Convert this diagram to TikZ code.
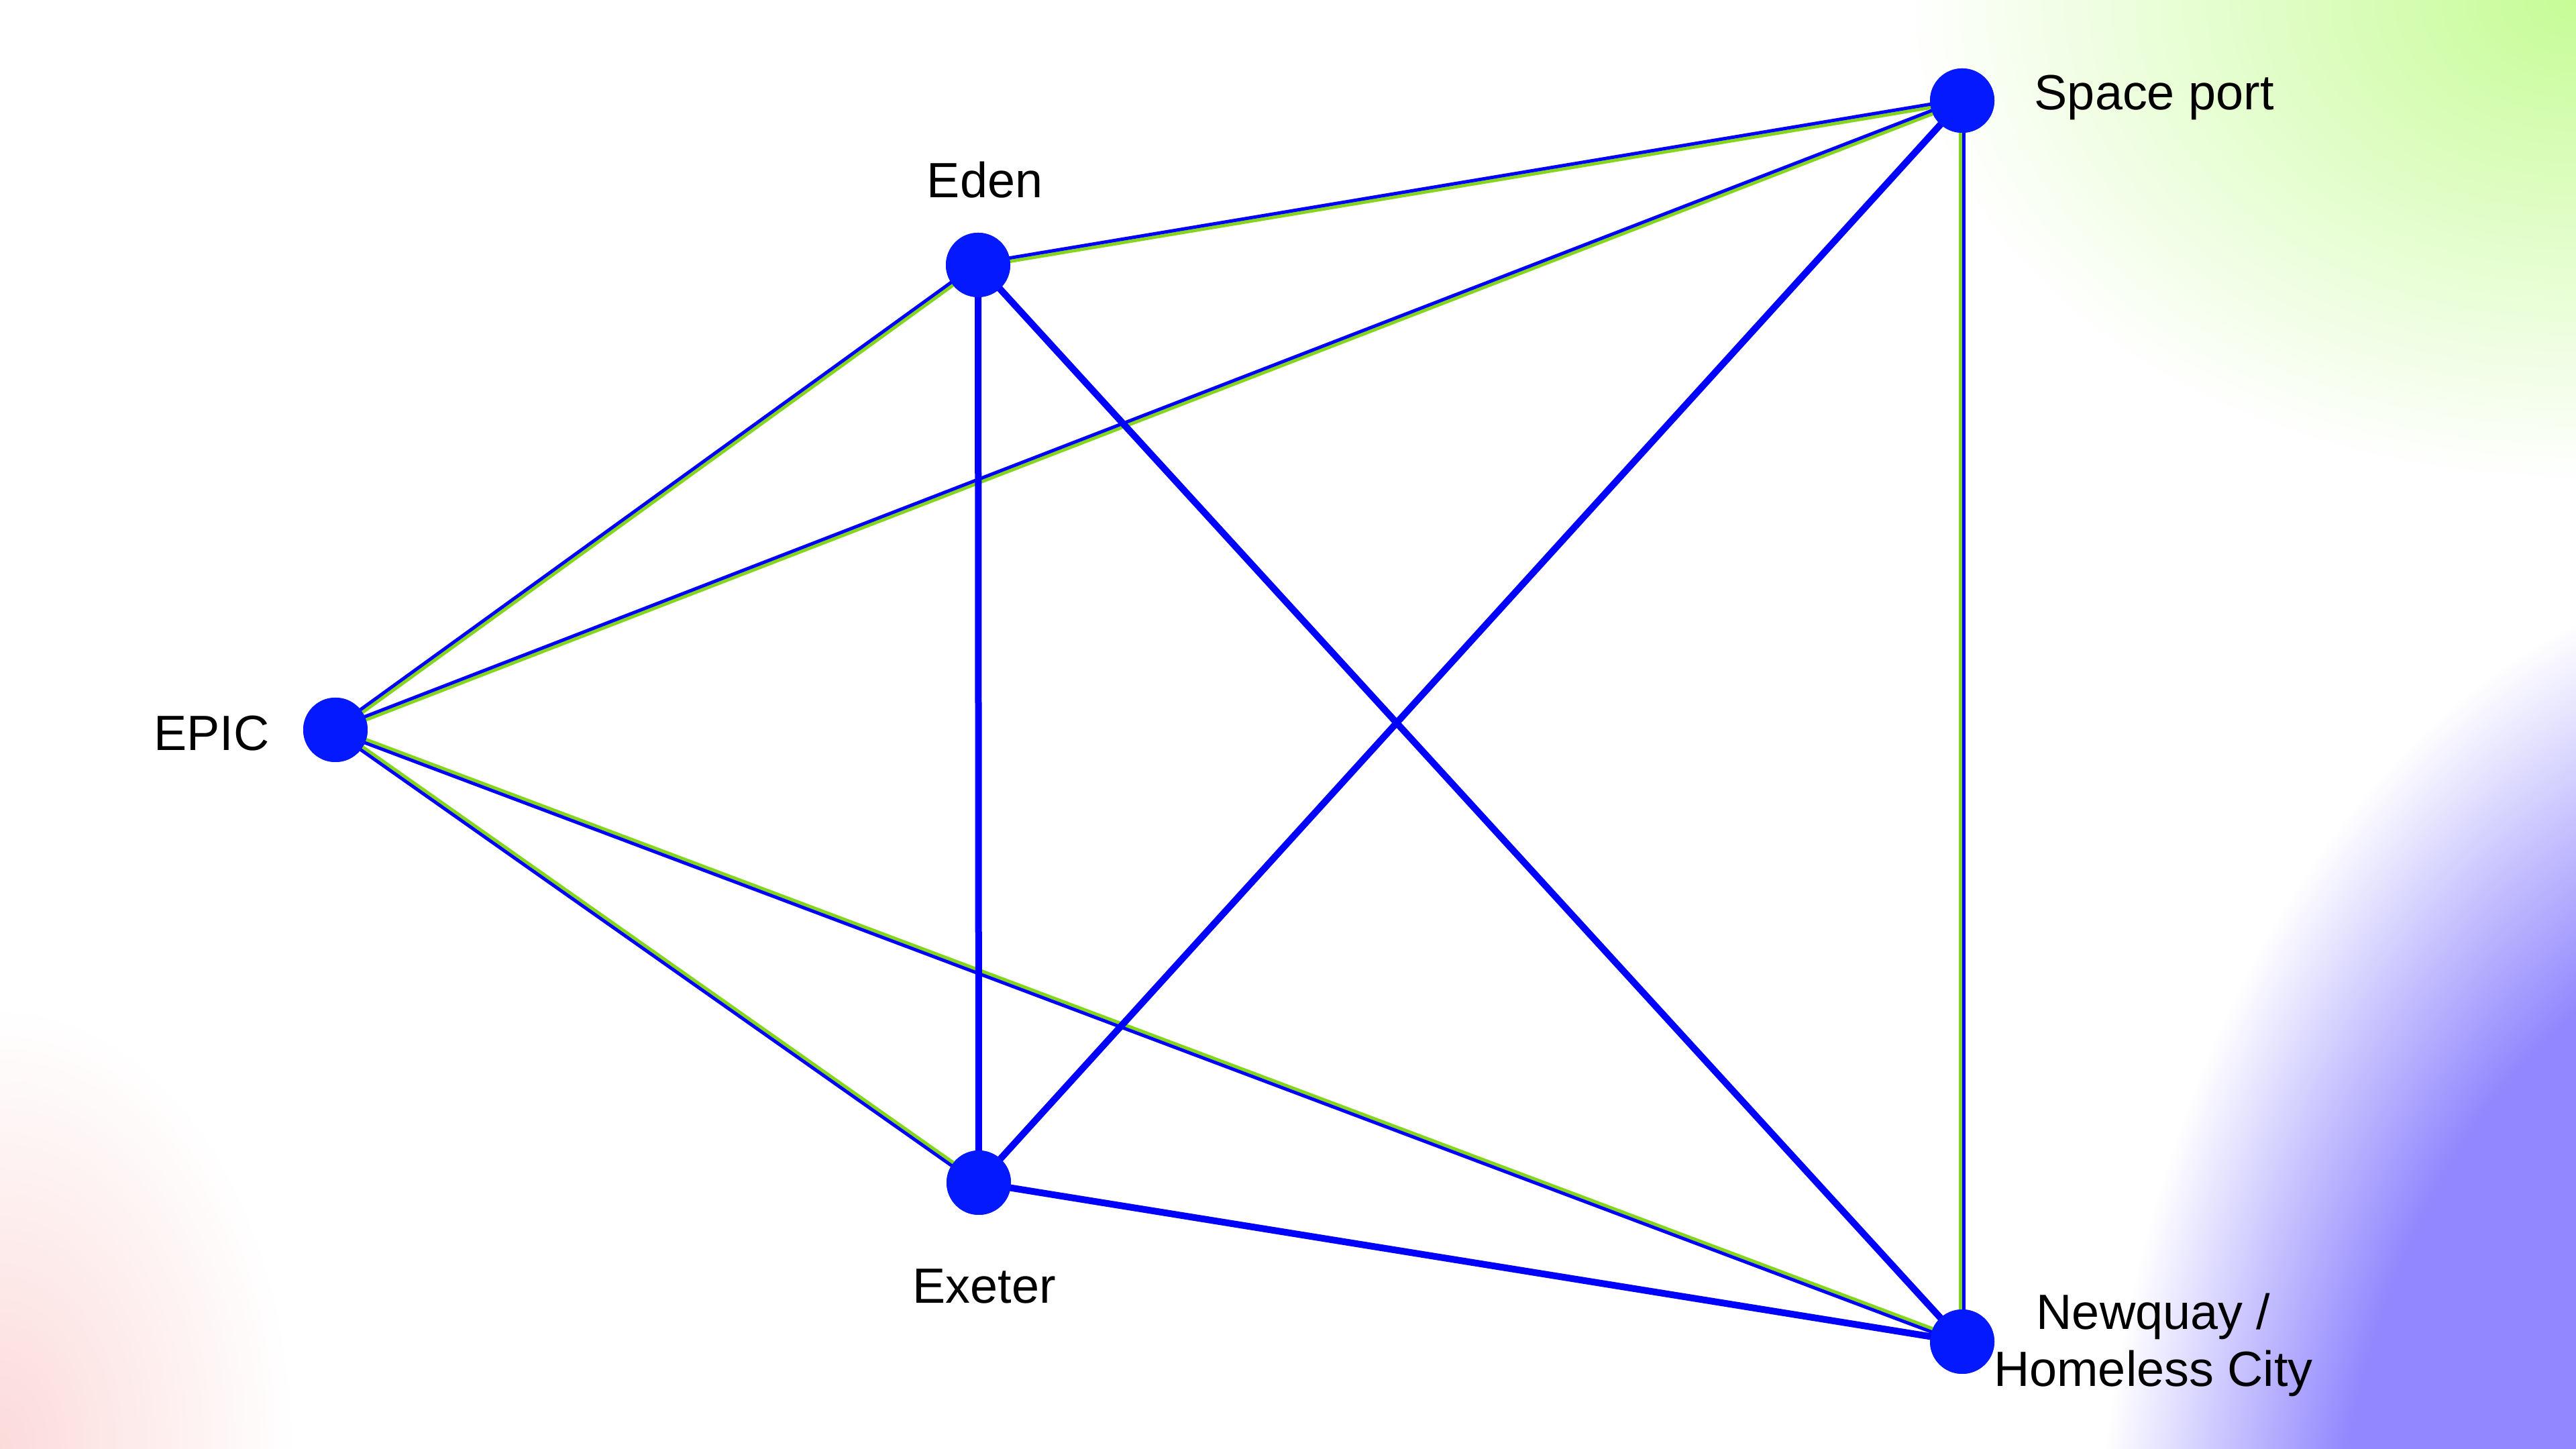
\documentclass[tikz,border=0pt]{standalone}
\usepackage{fontspec}
\setmainfont{Liberation Sans}
\usetikzlibrary{calc}
\definecolor{cgreen}{RGB}{198,252,150}
\definecolor{cpurple}{RGB}{145,135,254}
\definecolor{cpink}{RGB}{252,218,218}
\definecolor{nodeblue}{RGB}{5,25,255}
\definecolor{lineblue}{RGB}{0,0,255}
\definecolor{linegreen}{RGB}{132,214,28}
\pgfdeclareradialshading{greenfade}{\pgfpoint{0bp}{0bp}}{color(0bp)=(cgreen); color(25bp)=(white); color(50bp)=(white)}
\pgfdeclareradialshading{purplefade}{\pgfpoint{0bp}{0bp}}{color(0bp)=(cpurple); color(16.5bp)=(cpurple); color(25bp)=(white); color(50bp)=(white)}
\pgfdeclareradialshading{pinkfade}{\pgfpoint{0bp}{0bp}}{color(0bp)=(cpink); color(25bp)=(white); color(50bp)=(white)}
\tikzset{
  place/.style={circle, fill=nodeblue, draw=none, inner sep=0pt, minimum size=0.96cm},
  lbl/.style={inner sep=0pt, font=\fontsize{21}{25}\selectfont, text=black},
  blueline/.style={draw=lineblue, line width=0.1cm},
  thinblue/.style={draw=lineblue, line width=0.05cm},
  thingreen/.style={draw=linegreen, line width=0.05cm}
}
\newcommand\dualedge[2]{%
  \draw[thingreen] ($(#1.center)!0.025cm!-90:(#2.center)$) -- ($(#2.center)!0.025cm!90:(#1.center)$);
  \draw[thinblue] ($(#1.center)!0.025cm!90:(#2.center)$) -- ($(#2.center)!0.025cm!-90:(#1.center)$);}
\begin{document}
\begin{tikzpicture}
\useasboundingbox (0,0) rectangle (38.4,21.6);
\fill[white] (0,0) rectangle (38.4,21.6);
\begin{scope}
  \clip (0,0) rectangle (38.4,21.6);
  \shade[shading=greenfade] (38.4,21.6) ellipse [x radius=10cm, y radius=7.2cm];
  \shade[shading=purplefade] (41.6,-2.9) ellipse [x radius=10.4cm, y radius=16cm];
  \shade[shading=pinkfade] (0,0) ellipse [x radius=4.4cm, y radius=6.6cm];
\end{scope}

% nodes
\node[place] (eden) at (14.58,17.65) {};
\node[place] (space) at (29.25,20.10) {};
\node[place] (epic) at (5.00,10.72) {};
\node[place] (exeter) at (14.59,3.97) {};
\node[place] (newquay) at (29.25,1.60) {};

% connectors
\dualedge{epic}{eden}
\dualedge{eden}{space}
\dualedge{epic}{space}
\dualedge{exeter}{epic}
\dualedge{newquay}{epic}
\dualedge{space}{newquay}
\draw[blueline] (eden.center) -- (exeter.center);
\draw[blueline] (eden.center) -- (newquay.center);
\draw[blueline] (exeter.center) -- (space.center);
\draw[blueline] (exeter.center) -- (newquay.center);

% node discs on top of the connectors
\foreach \n in {eden,space,epic,exeter,newquay}{
  \fill[nodeblue] (\n.center) circle (0.48cm);
}

% labels
\node[lbl, anchor=base] (edenlbl) at (14.68,18.65) {Eden};
\node[lbl, anchor=base west] (spacelbl) at (30.32,19.96) {Space port};
\node[lbl, anchor=base east] (epiclbl) at (4.02,10.41) {EPIC};
\node[lbl, anchor=base] (exeterlbl) at (14.67,2.17) {Exeter};
\node[lbl, anchor=base] (newqlbla) at (32.10,1.78) {Newquay /};
\node[lbl, anchor=base] (newqlblb) at (32.10,0.93) {Homeless City};
\end{tikzpicture}
\end{document}
